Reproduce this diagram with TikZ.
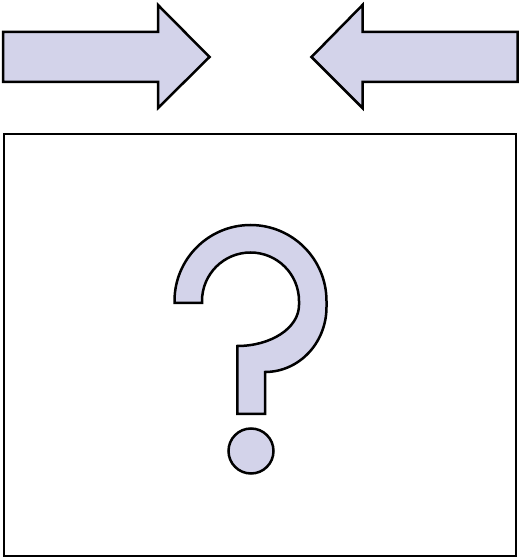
\documentclass[tikz,border=0pt]{standalone}
\definecolor{lav}{RGB}{211,211,234}
\tikzset{shapefill/.style={fill=lav,draw=black,line width=2.5pt,line join=miter}}
\begin{document}
\begin{tikzpicture}[x=1pt,y=1pt]
\useasboundingbox (0,0) rectangle (520,560);
% arrows
\draw[shapefill] (3,528) -- (158,528) -- (158,555) -- (209.5,503) -- (158,452) -- (158,478) -- (3,478) -- cycle;
\draw[shapefill] (517.5,528) -- (362.5,528) -- (362.5,555) -- (311.5,503) -- (362.5,452) -- (362.5,478) -- (517.5,478) -- cycle;
% box
\draw[line width=2.5pt] (4,426) rectangle (516,4);
% question mark
\draw[shapefill] (174.5,257) -- (174.5,259) arc[start angle=180,end angle=0,radius=76]
  -- (326.5,253) .. controls (326.5,217) and (299,188) .. (265,188)
  -- (265,146) -- (237.3,146) -- (237.3,214)
  .. controls (271,214) and (299,232) .. (299,255)
  -- (299,259) arc[start angle=0,end angle=180,radius=48.5]
  -- (202,257) -- cycle;
\draw[shapefill] (251,109) circle[radius=22.5];
\end{tikzpicture}
\end{document}
